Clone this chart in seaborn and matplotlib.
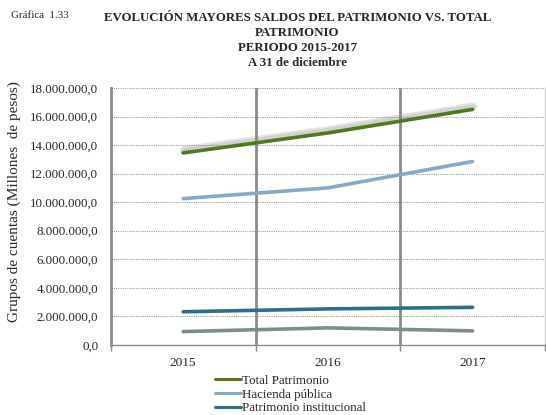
import numpy as np
import pandas as pd
import seaborn as sns
from matplotlib import pyplot as plt
from matplotlib import patheffects as pe
from matplotlib.lines import Line2D
from matplotlib.ticker import FuncFormatter, FixedLocator

anios = ['2015', '2016', '2017']
total_patrimonio = [13450000, 14850000, 16500000]
hacienda_publica = [10250000, 11000000, 12850000]
patrimonio_institucional = [2320000, 2520000, 2630000]
otros = [930000, 1190000, 980000]

series = ['Total Patrimonio', 'Hacienda pública', 'Patrimonio institucional', 'Otros']
colores = ['#4e7a1c', '#87a9c9', '#2a6f8e', '#7b8d91']

df = pd.DataFrame({
    'anio': anios * 4,
    'valor': total_patrimonio + hacienda_publica + patrimonio_institucional + otros,
    'serie': [s for s in series for _ in anios],
})

sns.set_style('white')
plt.rcParams['font.family'] = ['Liberation Serif', 'DejaVu Serif']

fig = plt.figure(figsize=(5.46, 4.15), dpi=100)
ax = fig.add_axes([0.203, 0.169, 0.795, 0.619])

sns.lineplot(data=df, x='anio', y='valor', hue='serie', hue_order=series,
             palette=colores, linewidth=2.6, ax=ax, legend=False, sort=False)

# sombra de la linea total
ax.lines[0].set_path_effects([
    pe.SimpleLineShadow(offset=(0.5, 2), shadow_color='#888888', alpha=0.22, linewidth=6),
    pe.SimpleLineShadow(offset=(0.5, 2), shadow_color='#888888', alpha=0.2, linewidth=3.5),
    pe.Normal()])

ax.set_xlim(-0.5, 2.5)
ax.set_ylim(0, 18000000)
ax.yaxis.set_major_locator(FixedLocator(np.arange(0, 18000001, 2000000)))
ax.yaxis.set_major_formatter(FuncFormatter(
    lambda v, p: '{:,.1f}'.format(v).replace(',', 'X').replace('.', ',').replace('X', '.')))
ax.grid(axis='y', linestyle=(0, (1, 1)), color='#9a9a9a', linewidth=0.8)
ax.set_axisbelow(True)

for xv in [0.5, 1.5]:
    ax.axvline(xv, color='#8a8a8a', linewidth=2, zorder=1)

ax.xaxis.set_minor_locator(FixedLocator([-0.5, 0.5, 1.5, 2.5]))
ax.tick_params(axis='x', which='minor', length=4, color='#8a8a8a', width=1, direction='out', bottom=True)
ax.tick_params(axis='x', which='major', length=0, labelsize=9.6, pad=9)
ax.tick_params(axis='y', length=0, labelsize=9.3, pad=9)

ax.spines['top'].set_visible(False)
ax.spines['left'].set_color('#8a8a8a')
ax.spines['left'].set_linewidth(2)
ax.spines['bottom'].set_color('#8a8a8a')
ax.spines['bottom'].set_linewidth(1)
ax.spines['right'].set_color('#d0d0d0')
ax.spines['right'].set_linewidth(1)

ax.set_xlabel('')
ax.set_ylabel('Grupos de cuentas (Millones  de pesos)', fontsize=11)
ax.yaxis.set_label_coords(-0.2075, 0.556)

fig.text(0.021, 0.962, 'Gráfica  1.33', fontsize=7.8, va='center')
titulo = ['EVOLUCIÓN MAYORES SALDOS DEL PATRIMONIO VS. TOTAL',
          'PATRIMONIO', 'PERIODO 2015-2017', 'A 31 de diciembre']
for i, t in enumerate(titulo):
    fig.text(0.545, 0.957 - i * 0.0362, t, fontsize=9.3, fontweight='bold',
             ha='center', va='center')

handles = [Line2D([], [], color=c, linewidth=2.2) for c in colores[:3]]
leg = fig.legend(handles, series[:3], loc='upper left', bbox_to_anchor=(0.394, 0.097),
                 frameon=False, fontsize=9.4, handlelength=2.0, handletextpad=0.08,
                 labelspacing=0.12, borderpad=0, borderaxespad=0)

fig.savefig('out.png', dpi=100)
